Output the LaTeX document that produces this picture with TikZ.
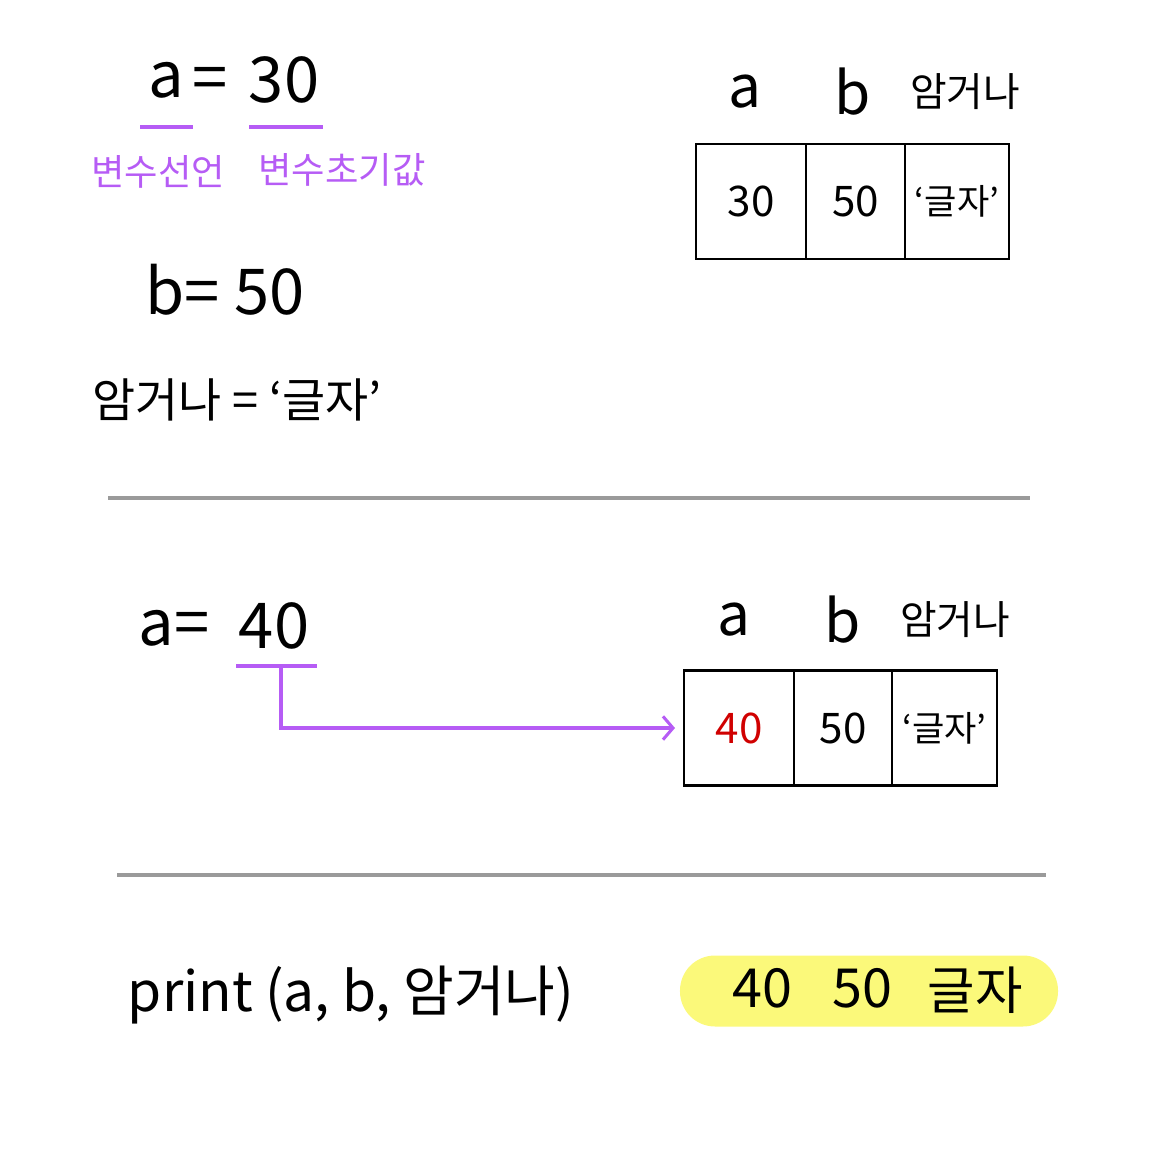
\documentclass[tikz,border=0pt]{standalone}
\usepackage{fontspec}
\setmainfont{Noto Sans CJK KR}
\usetikzlibrary{arrows.meta,positioning,calc}
\definecolor{NotePurple}{HTML}{B65CF5}
\definecolor{RuleGray}{HTML}{9A9A9A}
\definecolor{HiYellow}{HTML}{FBF97A}
\definecolor{ValRed}{HTML}{D00000}

\begin{document}
\begin{tikzpicture}[
  x=0.03cm, y=-0.03cm,
  hand/.style={inner sep=0pt,font=\fontsize{54}{60}\selectfont},
  note/.style={inner sep=0pt,text=NotePurple,font=\fontsize{31}{35}\selectfont},
  head/.style={inner sep=0pt,font=\fontsize{50}{56}\selectfont},
  korhead/.style={inner sep=0pt,font=\fontsize{34}{38}\selectfont},
  cell/.style={draw,line width=2.4pt,outer sep=0pt,minimum height=3.45cm,inner sep=0pt,font=\fontsize{36}{40}\selectfont},
  textcell/.style={cell,font=\fontsize{30}{34}\selectfont},
  uline/.style={NotePurple,line width=2.6pt},
  rule/.style={RuleGray,line width=2.6pt},
  pill/.style={fill=HiYellow,rounded corners=1.05cm,minimum width=11.34cm,minimum height=2.13cm,inner sep=0pt}
]
\useasboundingbox (0,0) rectangle (1165,1151);

% first assignment block
\node[hand] (a1) at (166,80) {a};
\node[hand] (eq1) at (210,84) {=};
\node[hand] (v1) at (284,80) {30};
\draw[uline] (140,127) -- (193,127);
\draw[uline] (249,127) -- (323,127);
\node[note] (decl) at (158,172) {변수선언};
\node[note] (init) at (342,170) {변수초기값};
\node[hand] (b1) at (225,290) {b= 50};
\node[hand,font=\fontsize{40}{46}\selectfont] (s1) at (237,400) {암거나 = ‘글자’};

% memory boxes, first state
\node[cell,minimum width=3.3cm] (ta) at (751,201.5) {30};
\node[cell,minimum width=2.97cm,right=0pt of ta] (tb) {50};
\node[textcell,minimum width=3.12cm,right=0pt of tb] (tc) {‘글자’};
\node[head] (hta) at (745,92) {a};
\node[head] (htb) at (853,92) {b};
\node[korhead] (htc) at (965,92) {암거나};

\draw[rule] (108,498) -- (1030,498);

% reassignment
\node[hand] (a2) at (174,628) {a=};
\node[hand] (v2) at (274,626) {40};
\draw[uline] (236,666) -- (317,666);
\coordinate (u40) at (281,666);

\node[cell,minimum width=3.3cm] (ma) at (739,728) {\textcolor{ValRed}{40}};
\node[cell,minimum width=2.94cm,right=0pt of ma] (mb) {50};
\node[textcell,minimum width=3.15cm,right=0pt of mb] (mc) {‘글자’};
\node[head] (hma) at (734,620) {a};
\node[head] (hmb) at (843,620) {b};
\node[korhead] (hmc) at (955,620) {암거나};

\draw[uline,-{Straight Barb[length=0.3cm,width=0.7cm]},shorten >=0.27cm] (u40) |- (ma.west);

\draw[rule] (117,875) -- (1046,875);

% output
\node[hand,font=\fontsize{47}{52}\selectfont] (pr) at (351,995) {print (a, b, 암거나)};
\node[pill] (out) at (869,991) {};
\node[hand,font=\fontsize{46}{52}\selectfont] (o1) at (762,988) {40};
\node[hand,font=\fontsize{46}{52}\selectfont] (o2) at (862,988) {50};
\node[hand,font=\fontsize{44}{50}\selectfont] (o3) at (975,990) {글자};
\end{tikzpicture}
\end{document}
